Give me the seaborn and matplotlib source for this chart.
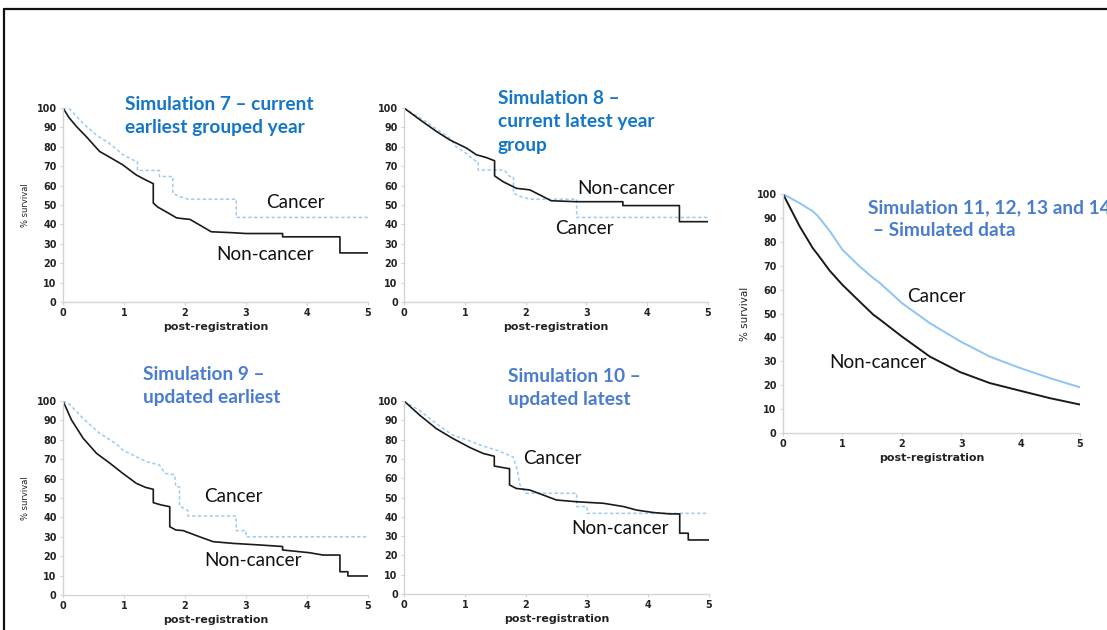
import matplotlib
matplotlib.use("Agg")
import matplotlib.pyplot as plt
from matplotlib.lines import Line2D
import seaborn as sns

sns.set_theme(style="white")
plt.rcParams["font.family"] = ["Lato", "DejaVu Sans"]

# ---- survival curves (years post-registration, % surviving) ----
# Simulation 7
sim7_non_t = [0, 0.1, 0.22, 0.38, 0.6, 0.8, 0.98, 1.2, 1.35, 1.48, 1.48, 1.55, 1.69, 1.86, 1.95, 2.08,
              2.24, 2.43, 2.79, 3.0, 3.6, 3.6, 4.54, 4.54, 5.0]
sim7_non_s = [100, 95, 90.5, 85.3, 77.6, 74, 70.7, 65.5, 63, 61, 51, 49, 46.5, 43.4, 43, 42.6,
              39.7, 36.2, 35.7, 35.3, 35.3, 33.6, 33.6, 25.3, 25.3]
sim7_can_t = [0, 0.11, 0.33, 0.55, 0.75, 0.87, 0.98, 1.2, 1.22, 1.22, 1.58, 1.58, 1.8, 1.8, 1.9,
              2.05, 2.84, 2.84, 5.0]
sim7_can_s = [100, 99.5, 92, 86, 82, 79, 76, 72.4, 72.4, 67.8, 67.8, 64.7, 64.7, 56, 54.5,
              53, 53, 43.6, 43.6]

# Simulation 8
sim8_non_t = [0, 0.26, 0.53, 0.75, 1.03, 1.19, 1.35, 1.49, 1.49, 1.63, 1.85, 2.07, 2.29, 2.42,
              2.83, 3.6, 3.6, 4.53, 4.53, 5.0]
sim8_non_s = [100, 94, 88, 83.6, 79.3, 75.9, 74.5, 72.8, 65, 62, 58.6, 57.8, 54.3, 52.2,
              51.7, 51.7, 49.7, 49.7, 41.4, 41.4]
sim8_can_t = [0, 0.26, 0.5, 0.75, 0.86, 1.03, 1.19, 1.22, 1.22, 1.65, 1.74, 1.8, 1.8, 1.95,
              2.07, 2.84, 2.84, 5.0]
sim8_can_s = [100, 95, 90, 84.5, 80, 76.4, 72.4, 72.4, 68, 68, 64.7, 64.7, 56, 54,
              53, 53, 43.6, 43.6]

# Simulation 9
sim9_non_t = [0, 0.14, 0.33, 0.55, 0.77, 0.98, 1.2, 1.35, 1.48, 1.48, 1.6, 1.75, 1.75, 1.85,
              1.97, 2.24, 2.46, 2.79, 3.22, 3.6, 3.6, 4.04, 4.26, 4.54, 4.54, 4.67, 4.67, 5.0]
sim9_non_s = [100, 90.2, 80.8, 73, 67.9, 62.7, 57.6, 55.5, 54.5, 47.6, 46.5, 45.5, 35.2, 33.5,
              33.2, 30, 27.5, 26.6, 25.8, 25, 23.2, 21.8, 20.6, 20.6, 12, 12, 9.8, 9.8]
sim9_can_t = [0, 0.1, 0.33, 0.6, 0.87, 0.98, 1.2, 1.37, 1.58, 1.67, 1.83, 1.85, 1.91, 1.91,
              2.05, 2.05, 2.84, 2.84, 3.0, 3.0, 5.0]
sim9_can_s = [100, 98.5, 91, 83.3, 78, 74.7, 71.3, 68.7, 67, 62.7, 62, 55.8, 55.8, 45.9,
              43.5, 40.7, 40.7, 33.2, 33.2, 30, 30]

# Simulation 10
sim10_non_t = [0, 0.26, 0.53, 0.8, 1.08, 1.3, 1.48, 1.48, 1.71, 1.73, 1.73, 1.84, 2.06, 2.28,
               2.5, 2.83, 3.27, 3.6, 3.81, 4.09, 4.36, 4.52, 4.52, 4.66, 4.66, 5.0]
sim10_non_s = [100, 92.6, 85.7, 80.6, 75.9, 72.8, 71.4, 66.3, 65, 65, 56.5, 54.7, 53.9, 51.3,
               48.7, 47.8, 47, 45.3, 43.5, 42.2, 41.5, 41.5, 31.5, 31.5, 28, 28]
sim10_can_t = [0, 0.26, 0.53, 0.8, 1.08, 1.3, 1.52, 1.79, 1.85, 1.9, 2.0, 2.83, 2.83, 3.0,
               3.0, 5.0]
sim10_can_s = [100, 95, 88.3, 82.3, 79.3, 76.6, 74.5, 71, 65, 56.5, 52.2, 52.2, 45.3, 45.3,
               41.8, 41.8]

# Simulations 11-14 (smooth simulated curves)
sim11_t = [0, 0.28, 0.5, 0.59, 0.79, 1.0, 1.29, 1.52, 1.63, 2.0, 2.47, 2.98, 3.48, 3.99, 4.49, 5.0]
sim11_non_s = [100, 86.5, 77.4, 74.5, 67.8, 62, 55.0, 49.5, 47.5, 40.4, 32, 25.5, 20.9, 17.7, 14.6, 11.9]
sim11_can_s = [100, 96.2, 92.8, 90.7, 84.4, 76.7, 69.7, 64.8, 62.8, 54.4, 46, 38.4, 32, 27.2, 23, 19.1]

y_ticks = list(range(0, 101, 10))
x_ticks = [0, 1, 2, 3, 4, 5]

BLACK = "#1a1a1a"
LIGHT_BLUE = "#9ccbf2"
TITLE_BLUE = "#1476c8"
TITLE_BLUE2 = "#4a7ccf"

W, H = 1107, 630
fig = plt.figure(figsize=(W / 100, H / 100), dpi=100)


def px_axes(left, top, right, bottom):
    return fig.add_axes([left / W, 1 - bottom / H, (right - left) / W, (bottom - top) / H])


def style_axes(ax, ylabel):
    ax.set_xlim(0, 5)
    ax.set_ylim(0, 100)
    ax.set_xticks(x_ticks)
    ax.set_yticks(y_ticks)
    for side in ("top", "right"):
        ax.spines[side].set_visible(False)
    for side in ("left", "bottom"):
        ax.spines[side].set_color("#d4d4d4")
        ax.spines[side].set_linewidth(1.0)
    ax.tick_params(axis="both", which="major", length=2.5, width=0.8, color="#d4d4d4",
                   labelsize=6.9, labelcolor="#222222", pad=2, direction="out",
                   bottom=True, left=True)
    for lab in ax.get_xticklabels() + ax.get_yticklabels():
        lab.set_fontfamily("DejaVu Sans")
        lab.set_fontweight("bold")
    ax.set_xlabel("post-registration", fontfamily="DejaVu Sans", fontweight="bold",
                  fontsize=7.9, color="#222222", labelpad=3)
    if ylabel:
        ax.set_ylabel("% survival", fontfamily="DejaVu Sans", fontsize=6.0,
                      color="#222222", labelpad=5)
    else:
        ax.set_ylabel("")
    ax.set_facecolor("white")


def km_panel(ax, non_t, non_s, can_t, can_s, ylabel):
    sns.lineplot(x=can_t, y=can_s, ax=ax, sort=False, estimator=None, color=LIGHT_BLUE,
                 linewidth=1.1, linestyle=(0, (2.2, 1.6)))
    sns.lineplot(x=non_t, y=non_s, ax=ax, sort=False, estimator=None, color=BLACK,
                 linewidth=1.2)
    style_axes(ax, ylabel)


ax7 = px_axes(63, 108, 368, 302)
km_panel(ax7, sim7_non_t, sim7_non_s, sim7_can_t, sim7_can_s, True)
ax8 = px_axes(404, 108, 708, 302)
km_panel(ax8, sim8_non_t, sim8_non_s, sim8_can_t, sim8_can_s, False)
ax9 = px_axes(63, 401, 368, 595)
km_panel(ax9, sim9_non_t, sim9_non_s, sim9_can_t, sim9_can_s, True)
ax10 = px_axes(404, 401, 709, 594)
km_panel(ax10, sim10_non_t, sim10_non_s, sim10_can_t, sim10_can_s, False)

ax11 = px_axes(783, 194, 1080, 433)
sns.lineplot(x=sim11_t, y=sim11_can_s, ax=ax11, sort=False, estimator=None,
             color="#8cc4f6", linewidth=1.4)
sns.lineplot(x=sim11_t, y=sim11_non_s, ax=ax11, sort=False, estimator=None,
             color=BLACK, linewidth=1.4)
style_axes(ax11, True)
ax11.yaxis.label.set_fontsize(7.5)


def fig_text(x, y, s, **kw):
    fig.text(x / W, 1 - y / H, s, va="center", ha="left", **kw)


title_kw = dict(fontsize=13.8, fontweight="bold")
label_kw = dict(fontsize=13.6, color="#111111")

# panel titles
fig_text(125, 104, "Simulation 7 – current", color=TITLE_BLUE, **title_kw)
fig_text(125, 128, "earliest grouped year", color=TITLE_BLUE, **title_kw)
fig_text(498, 99, "Simulation 8 –", color=TITLE_BLUE, **title_kw)
fig_text(498, 122, "current latest year", color=TITLE_BLUE, **title_kw)
fig_text(498, 145, "group", color=TITLE_BLUE, **title_kw)
fig_text(143, 375, "Simulation 9 –", color=TITLE_BLUE2, **title_kw)
fig_text(143, 398, "updated earliest", color=TITLE_BLUE2, **title_kw)
fig_text(508, 376, "Simulation 10 –", color=TITLE_BLUE2, **title_kw)
fig_text(508, 399, "updated latest", color=TITLE_BLUE2, **title_kw)
fig_text(868, 208, "Simulation 11, 12, 13 and 14", color=TITLE_BLUE2, **title_kw)
fig_text(873, 231, "– Simulated data", color=TITLE_BLUE2, **title_kw)

# curve labels
fig_text(266, 203, "Cancer", **label_kw)
fig_text(216, 254, "Non-cancer", **label_kw)
fig_text(577, 188, "Non-cancer", **label_kw)
fig_text(555, 229, "Cancer", **label_kw)
fig_text(204, 496, "Cancer", **label_kw)
fig_text(204, 561, "Non-cancer", **label_kw)
fig_text(523, 459, "Cancer", **label_kw)
fig_text(571, 528, "Non-cancer", **label_kw)
fig_text(907, 297, "Cancer", **label_kw)
fig_text(829, 362, "Non-cancer", **label_kw)

# slide frame
fig.add_artist(Line2D([3.5 / W, 1], [1 - 8.5 / H, 1 - 8.5 / H], color="#111111", linewidth=1.6))
fig.add_artist(Line2D([3.5 / W, 3.5 / W], [0, 1 - 8.5 / H], color="#111111", linewidth=1.6))

fig.savefig("out.png", dpi=100, facecolor="white")
